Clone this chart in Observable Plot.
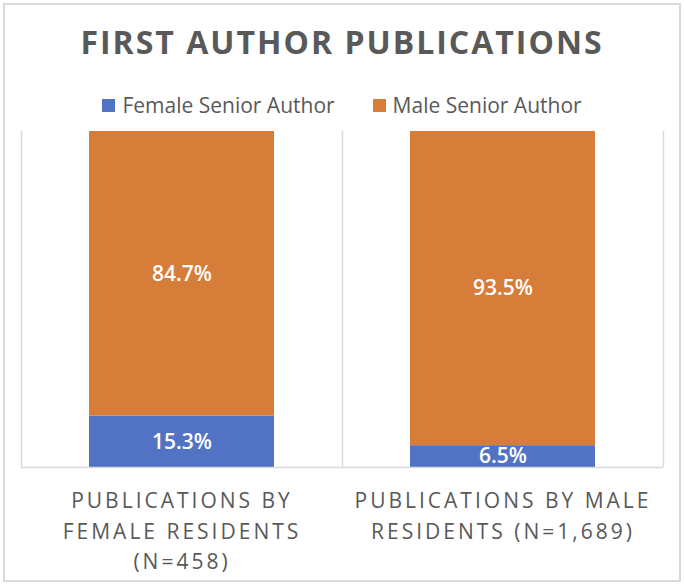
<!DOCTYPE html>
<html><head><meta charset="utf-8">
<script src="https://cdn.jsdelivr.net/npm/d3@7"></script>
<script src="https://cdn.jsdelivr.net/npm/@observablehq/plot@0.6"></script>
<style>
body{margin:0;background:#fff;}
#wrap{position:relative;width:684px;height:585px;font-family:"Open Sans",sans-serif;color:#595959;overflow:hidden;background:#fff}
#frame{position:absolute;left:3px;top:3px;width:678px;height:579px;border:2px solid #d9d9d9;box-sizing:border-box}
#title{position:absolute;top:22px;left:0;width:684px;text-align:center;font-weight:700;font-size:32px;letter-spacing:2px;line-height:40px}
#legend{position:absolute;top:92px;left:0;width:684px;display:flex;justify-content:center;align-items:center;font-size:21px;line-height:26px}
#legend .item{display:flex;align-items:center;margin:0 19px}
#legend .sw{width:13px;height:13px;margin-right:7px}
#chart{position:absolute;left:0;top:120px}
#chart g[aria-label="x-axis tick label"] text{letter-spacing:3px}
</style></head>
<body>
<div id="wrap">
  <div id="frame"></div>
  <div id="title">FIRST AUTHOR PUBLICATIONS</div>
  <div id="legend"></div>
  <div id="chart"></div>
</div>
<script>
const categories = ["PUBLICATIONS BY\nFEMALE RESIDENTS\n(N=458)", "PUBLICATIONS BY MALE\nRESIDENTS (N=1,689)"];
const series = ["Female Senior Author", "Male Senior Author"];
const femaleSenior = [15.3, 6.5];
const maleSenior = [84.7, 93.5];
const colors = ["#5272C4", "#D67D39"];

const rows = [];
categories.forEach((c, i) => {
  rows.push({cat: c, series: series[0], value: femaleSenior[i]});
  rows.push({cat: c, series: series[1], value: maleSenior[i]});
});

const legend = document.getElementById("legend");
series.forEach((s, i) => {
  const it = document.createElement("div");
  it.className = "item";
  it.innerHTML = `<span class="sw" style="background:${colors[i]}"></span><span>${s}</span>`;
  legend.appendChild(it);
});

const W = 684, H = 462, ML = 21, MR = 21;
const step = (W - ML - MR) / categories.length;

const chart = Plot.plot({
  width: W, height: H,
  marginTop: 11, marginBottom: 115, marginLeft: ML, marginRight: MR,
  style: {fontFamily: "'Open Sans', sans-serif", background: "transparent"},
  x: {domain: categories, paddingInner: 0.424, paddingOuter: 0.212, label: null},
  y: {domain: [0, 100], axis: null},
  color: {domain: series, range: colors},
  marks: [
    Plot.ruleX(categories, {x: d => d, y1: 0, y2: 100, dx: -step / 2, stroke: "#d9d9d9", strokeWidth: 1.5}),
    Plot.ruleX([categories[categories.length - 1]], {x: d => d, y1: 0, y2: 100, dx: step / 2, stroke: "#d9d9d9", strokeWidth: 1.5}),
    Plot.barY(rows, Plot.stackY({x: "cat", y: "value", z: "series", fill: "series", order: null})),
    Plot.text(rows, Plot.stackY({x: "cat", y: "value", z: "series", order: null, text: d => d.value.toFixed(1) + "%", fill: "white", fontSize: 21, fontWeight: 600})),
    Plot.ruleY([0], {stroke: "#d9d9d9", strokeWidth: 1.5}),
    Plot.axisX({tickSize: 0, tickPadding: 18, fontSize: 21, lineHeight: 1.476, fill: "#595959", label: null, tickFormat: d => d})
  ]
});
document.getElementById("chart").appendChild(chart);
</script>
</body></html>
